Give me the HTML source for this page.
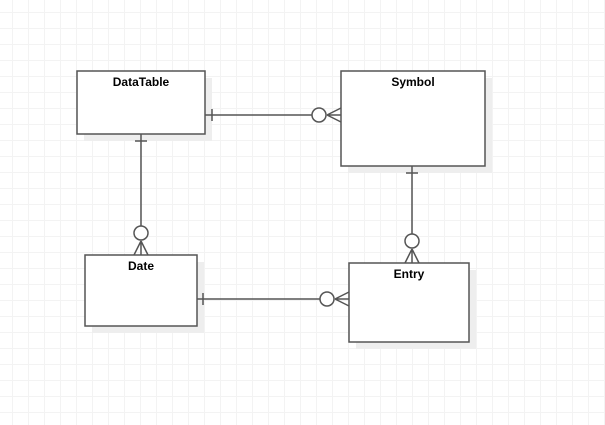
<!DOCTYPE html>
<html><head><style>
body{margin:0;width:605px;height:425px;overflow:hidden;background:#fff;
background-image:linear-gradient(#f3f3f3 1px,transparent 1px),linear-gradient(90deg,#f3f3f3 1px,transparent 1px);background-size:16px 16px;background-position:-4px -4px;}
svg{position:absolute;left:0;top:0}
text{font-family:"Liberation Sans",sans-serif;font-weight:bold;font-size:12px;fill:#000}
</style></head><body>
<svg width="605" height="425" xmlns="http://www.w3.org/2000/svg">
<g fill="#eeeeee">
<rect x="84" y="78" width="128" height="63"/>
<rect x="348" y="78" width="144" height="95"/>
<rect x="92" y="262" width="112" height="71"/>
<rect x="356" y="270" width="120" height="79"/>
</g>
<g fill="#fff" stroke="#555" stroke-width="1.5">
<rect x="77" y="71" width="128" height="63"/>
<rect x="341" y="71" width="144" height="95"/>
<rect x="85" y="255" width="112" height="71"/>
<rect x="349" y="263" width="120" height="79"/>
</g>
<text x="141" y="86" text-anchor="middle">DataTable</text>
<text x="413" y="86" text-anchor="middle">Symbol</text>
<text x="141" y="270" text-anchor="middle">Date</text>
<text x="409" y="278" text-anchor="middle">Entry</text>
<g stroke="#555" stroke-width="1.5" fill="none">
<path d="M205 115H312M212 109V121M327 115L341 108M327 115L341 122M327 115H341"/>
<circle cx="319" cy="115" r="7" fill="#fff"/>
<path d="M141 134V226M135 141H147M141 241L134 255M141 241L148 255M141 241V255"/>
<circle cx="141" cy="233" r="7" fill="#fff"/>
<path d="M412 166V234M406 173H418M412 249L405 263M412 249L419 263M412 249V263"/>
<circle cx="412" cy="241" r="7" fill="#fff"/>
<path d="M197 299H320M203 293V305M335 299L349 292M335 299L349 306M335 299H349"/>
<circle cx="327" cy="299" r="7" fill="#fff"/>
</g>
</svg>
</body></html>
